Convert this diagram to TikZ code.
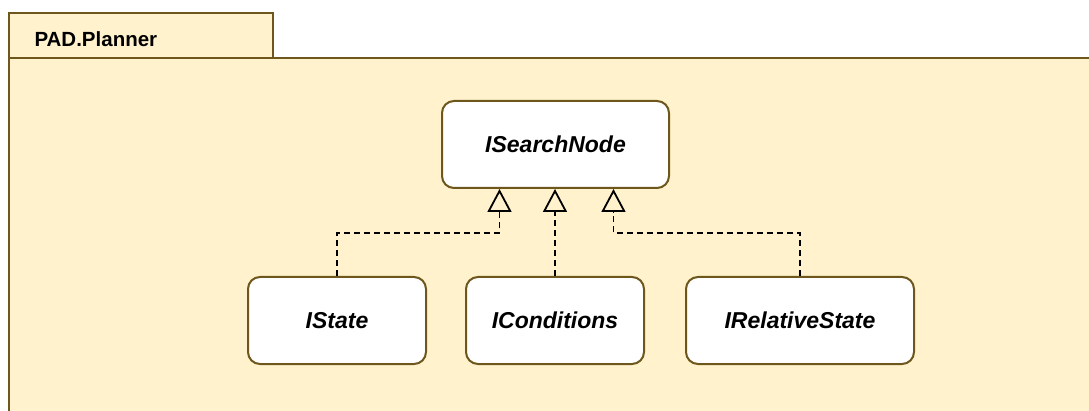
\documentclass[tikz,border=0pt]{standalone}
\usepackage{fontspec}
\setmainfont{Liberation Sans}
\usetikzlibrary{arrows.meta}
\definecolor{pkgfill}{HTML}{FFF2CC}
\definecolor{pkgline}{HTML}{6E571C}
\tikzset{
  iface/.style={draw=pkgline, fill=white, line width=2pt, rounded corners=12pt,
    minimum height=87pt, inner sep=0pt,
    font=\fontsize{23}{27}\selectfont\bfseries\itshape},
  realize/.style={line width=1.8pt, dash pattern=on 6pt off 4pt,
    -{Triangle[open, width=24pt, length=23pt, line width=1.8pt]}},
  pkgborder/.style={draw=pkgline, line width=2pt}
}
\begin{document}
\begin{tikzpicture}[x=1pt, y=-1pt]
  \useasboundingbox (0,0) rectangle (1089,411);
  % package body (open to the right and bottom) and name tab
  \fill[pkgfill] (8.5,58) rectangle (1089,411);
  \draw[pkgborder] (8.5,411) -- (8.5,58) -- (1089,58);
  \filldraw[pkgborder, fill=pkgfill] (8.5,12.7) rectangle (272.5,58);
  \node[anchor=west, font=\fontsize{20.5}{24}\selectfont\bfseries] (pkgname) at (31,39) {PAD.Planner};

  % interfaces
  \node[iface, minimum width=227pt] (search) at (555.5,144.5) {ISearchNode};
  \node[iface, minimum width=178pt] (istate) at (337,320.5) {IState};
  \node[iface, minimum width=178pt] (icond) at (555,320.5) {IConditions};
  \node[iface, minimum width=228pt] (irel) at (800,320.5) {IRelativeState};

  % realization links
  \draw[realize] (istate.north) |- ([xshift=-56pt, yshift=-44pt]search.south) -- ([xshift=-56pt]search.south);
  \draw[realize] (icond.north) -- (icond.north |- search.south);
  \draw[realize] (irel.north) |- ([xshift=58pt, yshift=-44pt]search.south) -- ([xshift=58pt]search.south);
\end{tikzpicture}
\end{document}
